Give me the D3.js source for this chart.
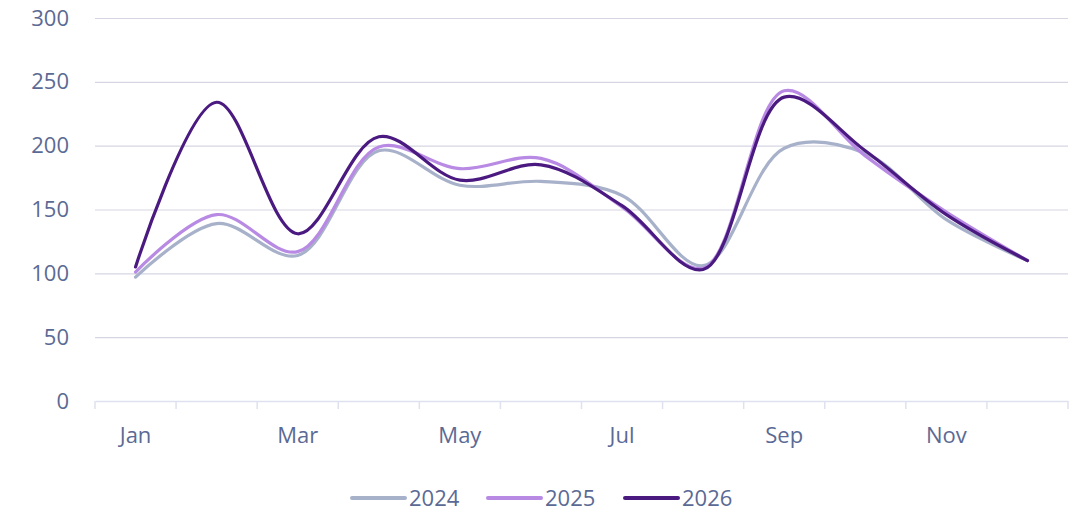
<!DOCTYPE html>
<html>
<head>
<meta charset="utf-8">
<script src="https://cdn.jsdelivr.net/npm/d3@7"></script>
<style>
  body { margin: 0; background: #fff; }
  svg { display: block; }
  svg text { font-family: "Open Sans", "Noto Sans", sans-serif; }
</style>
</head>
<body>
<svg id="chart" width="1076" height="511"></svg>
<script>
const months = ["Jan", "Feb", "Mar", "Apr", "May", "Jun", "Jul", "Aug", "Sep", "Oct", "Nov", "Dec"];
const years = ["2024", "2025", "2026"];
const values2024 = [97, 139, 114, 196, 169, 172, 161, 106, 198, 194, 142, 110];
const values2025 = [101, 146, 117, 199, 182, 190, 152, 104, 243, 192, 148, 110];
const values2026 = [105, 234, 131, 207, 173, 185, 153, 103, 238, 196, 146, 110];
const yTicks = [0, 50, 100, 150, 200, 250, 300];

const colors = ["#a7b1c9", "#b88ae4", "#4b1a81"];
const textColor = "#5b6a94";

const svg = d3.select("#chart");
const margin = { left: 95, right: 8, top: 18, bottom: 110 };
const width = 1076, height = 511;

const x = d3.scaleBand()
    .domain(months)
    .range([margin.left, width - margin.right]);

const y = d3.scaleLinear()
    .domain([0, 300])
    .range([height - margin.bottom, margin.top]);

// grid + y labels
const yAxis = svg.append("g")
    .attr("transform", `translate(${margin.left},0)`)
    .call(d3.axisLeft(y).tickValues(yTicks).tickSize(-(width - margin.left - margin.right)).tickPadding(26))
    .attr("font-family", null);
yAxis.select(".domain").remove();
yAxis.selectAll(".tick line")
    .attr("stroke", "#d6d6e2")
    .attr("stroke-width", 1.2)
    .filter(d => d === 0).remove();
yAxis.selectAll(".tick text")
    .attr("fill", textColor)
    .attr("font-size", 22);

// x axis
const xAxis = svg.append("g")
    .attr("transform", `translate(0,${y(0)})`)
    .call(d3.axisBottom(x).tickSize(0).tickPadding(26)
        .tickFormat((d, i) => i % 2 === 0 ? d : ""))
    .attr("font-family", null);
xAxis.select(".domain").attr("stroke", "#dfe2ee").attr("stroke-width", 1.5);
xAxis.selectAll(".tick text").attr("fill", textColor).attr("font-size", 22);

svg.append("g")
    .selectAll("line")
    .data(months.concat(["end"]))
    .join("line")
    .attr("x1", (d, i) => margin.left + i * x.step())
    .attr("x2", (d, i) => margin.left + i * x.step())
    .attr("y1", y(0))
    .attr("y2", y(0) + 8)
    .attr("stroke", "#dfe2ee")
    .attr("stroke-width", 1.5);

// lines
const series = [values2024, values2025, values2026];
const line = d3.line()
    .x((d, i) => x(months[i]) + x.bandwidth() / 2)
    .y(d => y(d))
    .curve(d3.curveCatmullRom.alpha(0.5));

svg.append("g")
    .selectAll("path")
    .data(series)
    .join("path")
    .attr("d", line)
    .attr("fill", "none")
    .attr("stroke", (d, i) => colors[i])
    .attr("stroke-width", 3.2)
    .attr("stroke-linecap", "round")
    .attr("stroke-linejoin", "round");

// legend
const legendX = [352, 488, 625];
const legend = svg.append("g")
    .selectAll("g")
    .data(years)
    .join("g")
    .attr("transform", (d, i) => `translate(${legendX[i]},498)`);
legend.append("line")
    .attr("x1", 0).attr("x2", 53)
    .attr("stroke", (d, i) => colors[i])
    .attr("stroke-width", 4)
    .attr("stroke-linecap", "round");
legend.append("text")
    .attr("x", 57)
    .attr("dy", "0.35em")
    .attr("fill", textColor)
    .attr("font-size", 22)
    .text(d => d);
</script>
</body>
</html>
